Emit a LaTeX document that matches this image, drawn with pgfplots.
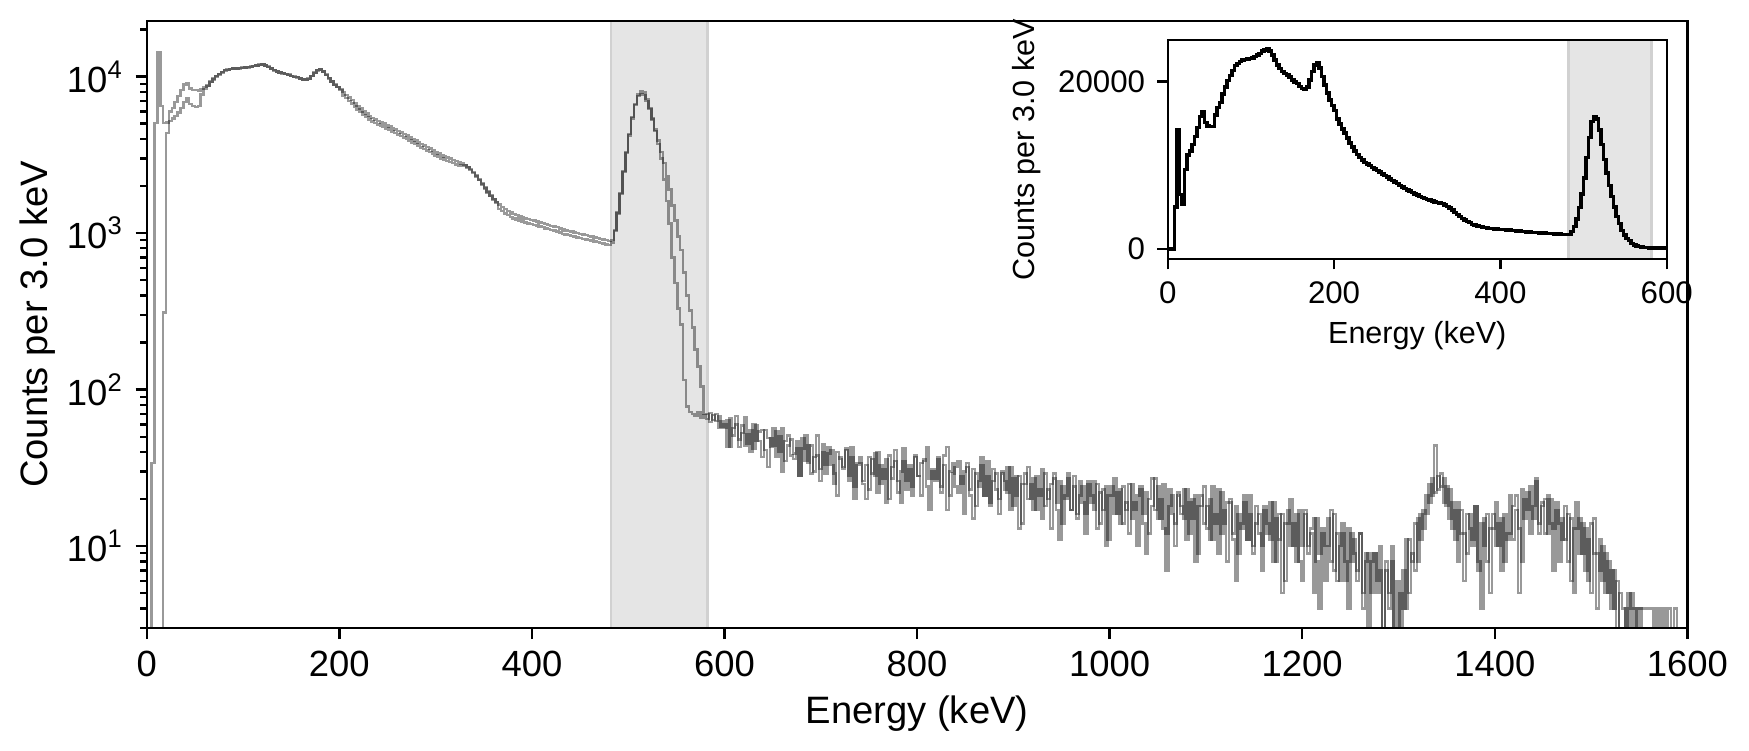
\documentclass[border=0pt]{standalone}
\usepackage{fontspec}
\setmainfont{Liberation Sans}
\usepackage{pgfplots}
\usepackage{pgfplotstable}
\pgfplotsset{compat=1.18}

\pgfplotstableread{
x a b
-1 1 1
2 1 1
5 34 1
8 5040 1
11 14200 1
14 6500 1
17 5040 310
20 5100 4370
23 6000 5200
26 6300 5400
29 6900 5600
32 7500 5900
35 8200 6300
38 8900 6900
41 9100 7300
44 8400 6700
47 8200 6500
50 8200 6400
53 8100 6500
56 8300 7700
59 8600 8300
62 8800 8700
65 9300 9200
68 9700 9600
71 10100 10000
74 10400 10300
77 10700 10600
80 11000 10900
83 11100 11000
86 11200 11150
89 11300 11250
92 11300 11300
95 11350 11300
98 11400 11350
101 11400 11400
104 11500 11450
107 11600 11550
110 11700 11650
113 11800 11800
116 11900 11850
119 11950 11900
122 11800 11800
125 11600 11550
128 11300 11250
131 11000 10950
134 10800 10750
137 10600 10600
140 10500 10450
143 10400 10350
146 10300 10200
149 10100 10050
152 10000 9950
155 9900 9850
158 9700 9700
161 9600 9550
164 9500 9500
167 9700 9650
170 10100 10050
173 10600 10550
176 11000 10950
179 11100 11100
182 10800 10800
185 10300 10250
188 9800 9750
191 9300 9300
194 8900 8850
197 8600 8550
200 8300 8200
203 7950 7550
206 7650 7270
209 7350 6980
212 7100 6745
215 6800 6460
218 6500 6175
221 6250 5940
224 6000 5700
227 5800 5510
230 5600 5320
233 5450 5180
236 5300 5035
239 5200 4940
242 5100 4845
245 5000 4750
248 4900 4655
251 4800 4560
254 4700 4465
257 4600 4370
260 4500 4275
263 4400 4180
266 4300 4085
269 4200 3990
272 4100 3895
275 4000 3800
278 3900 3705
281 3800 3610
284 3700 3515
287 3620 3440
290 3540 3365
293 3460 3290
296 3380 3210
299 3300 3135
302 3220 3060
305 3150 2990
308 3090 2935
311 3040 2890
314 2990 2840
317 2940 2795
320 2890 2745
323 2840 2700
326 2790 2680
329 2730 2700
332 2650 2625
335 2560 2535
338 2450 2425
341 2330 2305
344 2200 2180
347 2070 2050
350 1950 1930
353 1840 1820
356 1740 1720
359 1650 1635
362 1580 1565
365 1520 1430
368 1470 1380
371 1420 1335
374 1380 1300
377 1350 1270
380 1320 1240
383 1300 1220
386 1280 1200
389 1260 1185
392 1240 1165
395 1230 1155
398 1210 1140
401 1200 1130
404 1190 1120
407 1170 1100
410 1160 1090
413 1140 1070
416 1130 1060
419 1110 1045
422 1100 1035
425 1090 1025
428 1070 1005
431 1055 990
434 1040 980
437 1030 970
440 1020 960
443 1010 950
446 1000 940
449 990 930
452 980 920
455 970 910
458 960 900
461 950 895
464 940 885
467 930 875
470 920 865
473 910 855
476 900 845
479 890 840
482 900 870
485 1050 1030
488 1350 1330
491 1800 1780
494 2500 2450
497 3300 3250
500 4300 4200
503 5500 5400
506 6700 6600
509 7700 7500
512 8100 7700
515 7900 7600
518 7200 7000
521 6300 6200
524 5400 5300
527 4600 4500
530 3900 3700
533 3300 3000
536 2800 2200
539 2300 1600
542 1900 1150
545 1500 700
548 1200 480
551 950 330
554 780 260
557 560 115
560 400 78
563 320 72
566 250 70
569 180 68
572 140 72
575 105 66
578 70 69
581 70 65
584 62 71
587 69 64
590 63 70
593 68 57
596 58 63
599 60 57
602 43 64
605 66 43
608 51 57
611 60 68
614 43 48
617 53 59
620 67 44
623 45 52
626 55 40
629 42 60
632 59 47
635 47 54
638 37 55
641 55 41
644 49 32
647 43 49
650 57 44
653 37 54
656 50 40
659 30 57
662 47 35
665 51 44
668 38 48
671 36 39
674 42 47
677 28 28
680 49 42
683 35 51
686 44 34
689 29 44
692 37 30
695 51 38
698 31 26
701 40 45
704 29 33
707 43 39
710 33 41
713 25 29
716 40 21
719 36 37
722 31 32
725 42 41
728 26 28
731 37 43
734 20 24
737 34 33
740 37 34
743 26 25
746 33 20
749 23 37
752 36 29
755 28 39
758 40 22
761 25 33
764 31 27
767 19 36
770 38 20
773 27 32
776 35 41
779 22 26
782 30 19
785 42 35
788 26 23
791 33 31
794 24 21
797 37 38
800 28 28
803 21 34
806 35 36
809 43 24
812 27 17
815 30 31
818 26 27
821 37 36
824 22 24
827 33 38
830 17 43
833 30 21
836 34 29
839 24 32
842 22 35
845 28 25
848 16 30
851 34 32
854 23 21
857 31 15
860 18 29
863 26 24
866 37 33
869 21 21
872 28 35
875 19 18
878 31 26
881 23 29
884 16 20
887 29 30
890 26 23
893 22 32
896 32 17
899 18 27
902 28 21
905 13 28
908 25 14
911 29 25
914 20 32
917 25 20
920 17 27
923 28 17
926 21 23
929 31 15
932 18 29
935 23 20
938 13 25
941 29 27
944 19 17
947 26 11
950 14 24
953 21 20
956 29 27
959 17 17
962 24 28
965 16 15
968 26 21
971 19 24
974 12 16
977 25 26
980 21 19
983 17 26
986 25 13
989 14 22
992 23 17
995 10 24
998 21 11
1001 24 21
1004 16 27
1007 22 16
1010 14 23
1013 24 14
1016 17 19
1019 25 12
1022 15 25
1025 19 17
1028 10 21
1031 24 23
1034 16 14
1037 22 9
1040 12 20
1043 18 27
1046 27 17
1049 15 24
1052 20 15
1055 13 25
1058 7 12
1061 23 18
1064 16 21
1067 10 14
1070 21 22
1073 18 16
1076 15 23
1079 23 11
1082 12 19
1085 20 15
1088 8 21
1091 18 9
1094 21 18
1097 14 24
1100 18 13
1103 11 20
1106 24 11
1109 14 16
1112 23 9
1115 12 22
1118 17 14
1121 8 19
1124 20 19
1127 12 11
1130 18 6
1133 9 16
1136 14 13
1139 21 19
1142 11 11
1145 16 21
1148 10 9
1151 18 14
1154 12 16
1157 7 10
1160 17 18
1163 14 12
1166 11 19
1169 19 8
1172 8 15
1175 16 11
1178 5 16
1181 14 6
1184 17 14
1187 10 20
1190 14 10
1193 8 16
1196 17 8
1199 10 6
1202 17 16
1205 9 10
1208 12 13
1211 5 15
1214 15 8
1217 9 4
1220 13 12
1223 6 10
1226 10 15
1229 17 8
1232 7 16
1235 12 6
1238 6 10
1241 14 12
1244 8 6
1247 4 13
1250 12 8
1253 9 11
1256 7 6
1259 12 12
1262 5 4
1265 9 8
1268 2 9
1271 8 5
1274 9 9
1277 5 6
1280 7 10
1283 3 3
1286 8 7
1289 5 4
1292 10 8
1295 3 1
1298 1 6
1301 5 1
1304 4 7
1307 11 4
1310 5 11
1313 9 8
1316 7 14
1319 15 8
1322 11 16
1325 17 13
1328 16 21
1331 25 19
1334 21 27
1337 44 22
1340 23 28
1343 29 24
1346 19 27
1349 24 18
1352 15 23
1355 19 13
1358 11 17
1361 19 8
1364 12 17
1367 6 12
1370 16 9
1373 13 16
1376 10 11
1379 18 18
1382 8 7
1385 4 14
1388 15 10
1391 8 16
1394 13 5
1397 16 13
1400 10 19
1403 14 10
1406 7 15
1409 16 8
1412 11 12
1415 21 12
1418 11 18
1421 17 21
1424 5 13
1427 23 8
1430 15 20
1433 22 17
1436 12 24
1439 18 15
1442 27 26
1445 14 12
1448 19 18
1451 12 20
1454 21 12
1457 14 20
1460 7 13
1463 17 19
1466 14 8
1469 11 15
1472 18 11
1475 8 16
1478 15 6
1481 5 13
1484 13 19
1487 15 9
1490 9 14
1493 13 7
1496 6 11
1499 14 5
1502 9 15
1505 4 9
1508 11 7
1511 6 10
1514 9 5
1517 5 8
1520 7 4
1523 4 7
1526 6 3
1529 3 5
1532 1 4
1535 4 1
1538 1 5
1541 5 4
1544 4 1
1547 1 4
1550 4 4
1553 1 4
1556 1 4
1559 1 4
1562 1 4
1565 1 1
1568 1 4
1571 1 1
1574 1 4
1577 1 1
1580 1 4
1583 1 1
1586 1 4
1589 1 1
1592 1 1
1595 1 1
1598 1 1
1601 1 1
}\spec

\begin{document}
\begin{tikzpicture}
\useasboundingbox (-42.3pt,-35.44pt) rectangle (461.7pt,180.96pt);
\begin{axis}[
  at={(0,0)}, anchor=south west,
  scale only axis, width=443.95pt, height=174.9pt,
  xmin=0, xmax=1600, ymode=log, ymin=3, ymax=22650,
  axis on top,
  axis line style={line width=0.7pt},
  tick style={line width=0.7pt, black},
  major tick length=3.2pt, minor tick length=1.9pt,
  tick align=outside, tick pos=left,
  xtick={0,200,400,600,800,1000,1200,1400,1600},
  ytick={10,100,1000,10000},
  yticklabels={10\textsuperscript{1},10\textsuperscript{2},10\textsuperscript{3},10\textsuperscript{4}},
  minor ytick={3,4,5,6,7,8,9,20,30,40,50,60,70,80,90,200,300,400,500,600,700,800,900,2000,3000,4000,5000,6000,7000,8000,9000,20000},
  /pgf/number format/assume math mode=true,
  /pgf/number format/1000 sep={},
  tick label style={font=\fontsize{10.5}{12}\selectfont},
  label style={font=\fontsize{11}{13}\selectfont},
  xlabel={Energy (keV)},
  ylabel={Counts per 3.0 keV},
  xlabel style={at={(axis description cs:0.5,-0.1407)}, anchor=center},
  ylabel style={at={(axis description cs:-0.0711,0.5)}, anchor=center},
]
\addplot[fill=black!10, draw=black!18, line width=0.8pt] coordinates {(482,1) (482,40000) (582,40000) (582,1)} -- cycle;
\addplot[const plot mark left, draw=black, draw opacity=0.4, line width=0.72pt] table[x=x,y=a]{\spec};
\addplot[const plot mark left, draw=black, draw opacity=0.4, line width=0.72pt] table[x=x,y=b]{\spec};
\end{axis}
\begin{axis}[
  at={(294.2pt,106.3pt)}, anchor=south west,
  scale only axis, width=143.8pt, height=63.1pt,
  xmin=0, xmax=600, ymin=-1190, ymax=24920,
  axis on top,
  axis background/.style={fill=white},
  axis line style={line width=0.7pt},
  tick style={line width=0.7pt, black},
  major tick length=3pt,
  tick align=outside, tick pos=left,
  xtick={0,200,400,600},
  ytick={0,20000},
  scaled y ticks=false,
  /pgf/number format/assume math mode=true,
  /pgf/number format/1000 sep={},
  tick label style={font=\fontsize{9}{11}\selectfont},
  label style={font=\fontsize{8.8}{10}\selectfont},
  xlabel={Energy (keV)},
  ylabel={Counts per 3.0 keV},
  xlabel style={at={(axis description cs:0.5,-0.350)}, anchor=center},
  ylabel style={at={(axis description cs:-0.2835,0.5)}, anchor=center},
]
\addplot[fill=black!10, draw=black!18, line width=0.8pt] coordinates {(482,-5000) (482,30000) (582,30000) (582,-5000)} -- cycle;
\addplot[const plot mark left, draw=black, line width=1pt] table[x=x,y expr=\thisrow{a}+\thisrow{b}]{\spec};
\end{axis}
\end{tikzpicture}
\end{document}
